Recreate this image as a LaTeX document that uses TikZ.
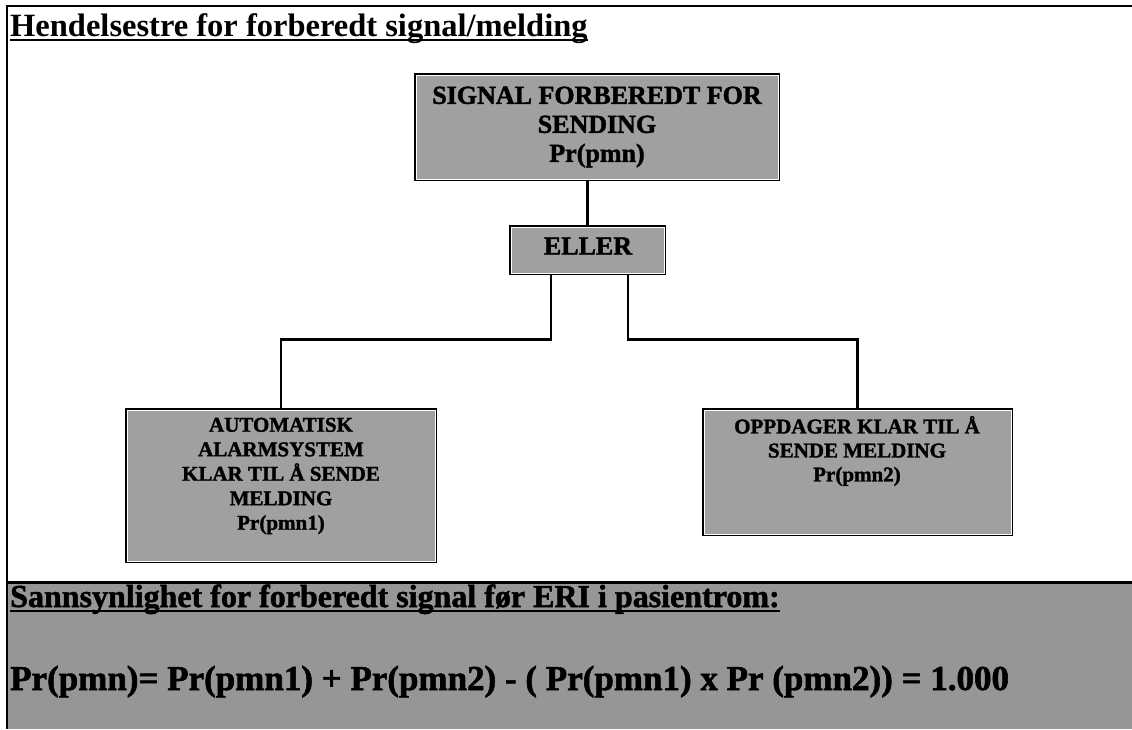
\documentclass[tikz,border=0pt]{standalone}
\usepackage{fontspec}
\setmainfont{Liberation Serif}
\newfontfamily\heavyfont{Liberation Serif}[BoldFeatures={FakeBold=1.6}]
\definecolor{boxgray}{RGB}{160,160,160}
\definecolor{panelgray}{RGB}{150,150,150}
\begin{document}
\begin{tikzpicture}[x=1pt,y=-1pt,
  box/.style={draw=black, line width=2.5pt, fill=boxgray, inner sep=0pt},
  boxtext/.style={inner sep=0pt, align=center, text=black},
  conn/.style={draw=black, line width=2.5pt},
  frameline/.style={draw=black, line width=2.5pt},
  ulinetext/.style={anchor=base west, inner sep=0pt}]
\useasboundingbox (0,0) rectangle (1132,729);
\fill[white] (0,0) rectangle (1132,729);
% bottom panel
\fill[panelgray] (7,583) rectangle (1132,729);
\draw[frameline] (1132,6) -- (7,6) -- (7,729);
\draw[line width=3pt] (7,582) -- (1132,582);
% title
\node[ulinetext, font=\bfseries\fontsize{32.5}{38}\selectfont] (title) at (10,36) {Hendelsestre for forberedt signal/melding};
\draw[line width=2pt] ([yshift=-4pt]title.base west) -- ([yshift=-4pt]title.base east);
% boxes
\node[box, minimum width=364pt, minimum height=106pt] (top) at (597,127) {};
\node[box, minimum width=155pt, minimum height=48pt] (eller) at (587.5,250) {};
\node[box, minimum width=310pt, minimum height=153pt] (lbox) at (281,485.5) {};
\node[box, minimum width=309pt, minimum height=126pt] (rbox) at (857.5,472) {};
\foreach \n in {top,eller,lbox,rbox}{
  \draw[white, line width=0.9pt] ([shift={(2.2,2.2)}]\n.north west) rectangle ([shift={(-2.2,-2.2)}]\n.south east);
}
% texts
\node[boxtext, font=\heavyfont\bfseries\fontsize{26}{29}\selectfont] (toptext) at (597,127) {SIGNAL FORBEREDT FOR\\SENDING\\Pr(pmn)};
\node[boxtext, font=\heavyfont\bfseries\fontsize{26}{29}\selectfont] (ellertext) at (588,246) {ELLER};
\node[boxtext, font=\heavyfont\bfseries\fontsize{21}{24.5}\selectfont] (ltext) at (281,476) {AUTOMATISK\\ALARMSYSTEM\\KLAR TIL Å SENDE\\MELDING\\Pr(pmn1)};
\node[boxtext, font=\heavyfont\bfseries\fontsize{21}{24}\selectfont] (rtext) at (857,451) {OPPDAGER KLAR TIL Å\\SENDE MELDING\\Pr(pmn2)};
% connectors
\draw[conn] (eller.north) -- (eller.north |- top.south);
\draw[conn] ([xshift=-36.5pt]eller.south) -- ++(0,64) -| (lbox.north);
\draw[conn] ([xshift=40.5pt]eller.south) -- ++(0,64) -| (rbox.north);
% bottom texts
\node[ulinetext, font=\heavyfont\bfseries\fontsize{32}{38}\selectfont] (prob) at (10,607) {Sannsynlighet for forberedt signal før ERI i pasientrom:};
\draw[line width=2pt] ([yshift=-4pt]prob.base west) -- ([yshift=-4pt]prob.base east);
\node[ulinetext, font=\heavyfont\bfseries\fontsize{35}{40}\selectfont] (formula) at (10,690) {Pr(pmn)= Pr(pmn1) + Pr(pmn2) - ( Pr(pmn1) x Pr (pmn2)) = 1.000};
\end{tikzpicture}
\end{document}
